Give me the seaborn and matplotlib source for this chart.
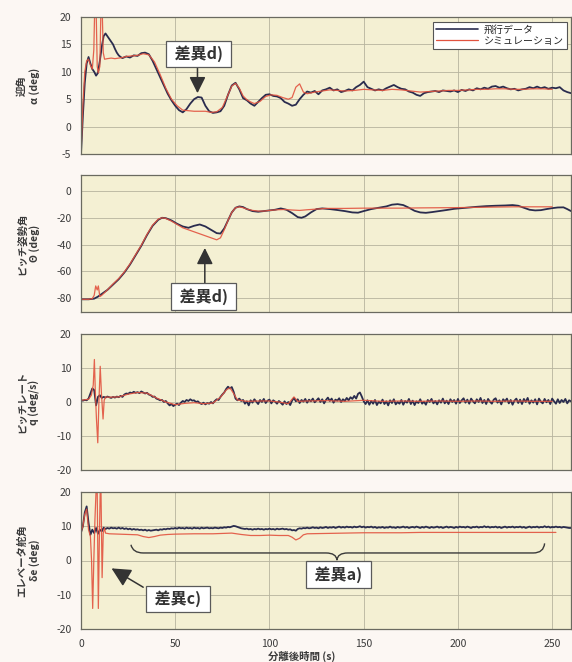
import numpy as np
import pandas as pd
import matplotlib
matplotlib.use("Agg")
import matplotlib.pyplot as plt
import seaborn as sns
from matplotlib.lines import Line2D
from matplotlib.path import Path
from matplotlib.patches import PathPatch

# ---------------- data ----------------
LABEL_FLIGHT = "飛行データ"
LABEL_SIM = "シミュレーション"

# Panel 1: angle of attack alpha (deg)
t_alpha_fl = list(range(0, 23)) + list(range(24, 261, 2))
alpha_fl = [-5, 2, 8, 11.5, 12.7, 11.5, 10.5, 10.0, 9.3, 9.8,
            12.0, 14.5, 16.5, 17.0, 16.5, 16.0, 15.5, 15.0, 14.2, 13.5,
            13.0, 12.7, 12.5,
            12.8, 12.6, 13.0, 12.9, 13.4, 13.5, 13.2, 12.0, 10.5, 9.0,
            7.5, 6.0, 4.8, 3.8, 3.0, 2.6, 3.2, 4.2, 5.0, 5.4,
            5.3, 3.8, 2.8, 2.5, 2.6, 2.8, 3.8, 5.8, 7.5, 8.0,
            6.8, 5.2, 4.8, 4.2, 3.8, 4.5, 5.2, 5.8, 5.9, 5.6,
            5.5, 5.2, 4.5, 4.2, 3.8, 4.0, 5.0, 5.8, 6.4, 6.2,
            6.5, 5.9, 6.6, 6.8, 7.1, 6.6, 6.8, 6.3, 6.5, 6.8,
            6.6, 7.2, 7.6, 8.2, 7.2, 6.9, 6.6, 6.8, 6.6, 7.0,
            7.3, 7.6, 7.2, 6.9, 6.8, 6.4, 6.2, 5.8, 5.6, 6.1,
            6.3, 6.4, 6.5, 6.3, 6.6, 6.5, 6.4, 6.6, 6.3, 6.7,
            6.5, 6.8, 6.6, 7.0, 6.8, 7.1, 6.9, 7.3, 7.4, 7.1,
            7.3, 7.0, 6.8, 6.9, 6.6, 6.8, 6.9, 7.2, 7.0, 7.3,
            7.0, 7.2, 6.9, 7.1, 7.0, 7.2, 6.6, 6.3, 6.1]

t_alpha_sim = [0, 1, 2, 3, 4, 5, 6, 6.8, 7.3, 8.0,
               8.6, 9.2, 10, 10.6, 11.2, 11.8, 12.5, 14, 16, 18,
               20, 22, 24, 27, 30, 33, 36, 39, 42, 45,
               48, 51, 54, 57, 60, 63, 66, 69, 72, 75,
               78, 80, 82, 84, 86, 88, 90, 92, 95, 98,
               101, 104, 107, 110, 112, 114, 116, 118, 120, 124,
               128, 132, 136, 140, 145, 150, 155, 160, 165, 170,
               175, 180, 185, 190, 195, 200, 205, 210, 215, 220,
               225, 230, 235, 240, 245, 250]
alpha_sim = [-5, 4, 10, 12, 12.3, 11.2, 10.5, 14, 22, 22,
             11, 9.8, 11, 22, 22, 13.5, 12.3, 12.4, 12.5, 12.4,
             12.5, 12.6, 12.8, 12.9, 13.0, 13.3, 13.1, 11.8, 9.5, 7.0,
             5.0, 3.8, 3.0, 2.9, 2.8, 2.8, 2.8, 2.6, 2.7, 3.5,
             5.8, 7.4, 7.9, 7.0, 5.6, 4.9, 4.5, 4.2, 4.6, 5.5,
             5.8, 5.7, 5.3, 5.0, 5.3, 7.2, 7.8, 6.3, 6.0, 6.3,
             6.5, 6.7, 6.6, 6.5, 6.6, 6.8, 6.7, 6.6, 6.8, 6.7,
             6.5, 6.3, 6.4, 6.5, 6.6, 6.6, 6.7, 6.8, 6.8, 6.9,
             6.9, 6.8, 6.8, 6.9, 6.9, 6.8]

# Panel 2: pitch attitude theta (deg)
t_theta_fl = [0, 4, 7, 9, 11, 14, 17, 20, 23, 26,
              29, 32, 35, 38, 41, 43, 45, 48, 51, 54,
              57, 60, 63, 66, 69, 72, 74, 76, 78, 80,
              82, 84, 86, 88, 91, 94, 97, 100, 103, 106,
              109, 112, 115, 117, 119, 122, 125, 128, 132, 136,
              140, 144, 147, 150, 154, 158, 162, 165, 168, 171,
              174, 177, 180, 183, 186, 190, 194, 198, 202, 206,
              210, 215, 220, 225, 229, 232, 235, 238, 241, 244,
              247, 250, 253, 256, 258, 260]
theta_fl = [-81, -81, -80.5, -79, -77, -74, -70, -66, -61, -55,
            -48, -41, -33, -26, -21.5, -20, -20.3, -22, -24.5, -26.5,
            -27.5, -26, -25, -26.5, -29, -31.5, -31.8, -28, -22, -16,
            -12.5, -11.5, -12, -13.5, -15, -15.5, -15, -14.5, -14, -13,
            -14, -16.5, -19.5, -20, -19, -16, -13.5, -13, -13.5, -14.2,
            -15, -16, -16.2, -15, -13.5, -12.5, -11.5, -10.2, -9.8, -10.5,
            -12.5, -14.8, -16, -16.3, -15.8, -15, -14.2, -13.3, -12.8, -12.3,
            -11.8, -11.3, -11, -10.8, -10.5, -11, -12.5, -14, -14.5, -14.3,
            -13.5, -12.8, -12.3, -12.2, -13.5, -15]

t_theta_sim = [0, 4, 6, 7, 7.8, 8.6, 9.2, 10, 11, 14,
               17, 20, 23, 26, 29, 32, 35, 38, 41, 43,
               45, 48, 51, 54, 57, 60, 63, 66, 69, 72,
               74, 76, 78, 80, 82, 84, 86, 88, 91, 94,
               97, 100, 104, 108, 112, 116, 120, 125, 130, 140,
               150, 160, 170, 180, 190, 200, 210, 220, 230, 240,
               250]
theta_sim = [-81, -81, -80.5, -78, -71, -74, -71, -79, -78, -74,
             -69.5, -65.5, -60.5, -54.5, -47.5, -40.5, -32.5, -25.5, -21, -20,
             -20.5, -22.5, -25, -27.5, -29, -30.5, -32, -33.5, -35, -36.5,
             -35, -29, -22, -16, -12.5, -11.8, -12.5, -13.5, -14.5, -15,
             -15, -14.5, -14, -13.8, -14.2, -14.5, -14, -13.5, -13, -13,
             -12.8, -12.8, -12.8, -12.6, -12.5, -12.4, -12.2, -12, -11.8, -11.8,
             -11.8]

# Panel 3: pitch rate q (deg/s), flight data sampled every second 0..260
t_q_fl = list(range(0, 261))
q_fl = [0.5, 0.4, 0.6, 0.5, 1.0, 2.5, 4.0, 3.5, -1.0, 1.5,
        2.0, 1.2, 1.5, 1.3, 1.6, 1.4, 1.2, 1.5, 1.3, 1.6,
        1.4, 1.8, 1.5, 2.2, 2.5, 2.4, 2.8, 2.6, 3.0, 2.7,
        2.9, 2.6, 3.1, 2.8, 2.5, 2.7, 2.2, 2.0, 1.5, 1.6,
        1.0, 0.8, 0.5, 0.6, 0.0, 0.3, -0.4, -1.0, -0.6, -1.2,
        -0.8, -0.5, -0.9, -0.2, 0.3, 0.0, 0.6, 0.3, 0.8, 0.4,
        0.5, 0.0, 0.2, -0.3, -0.6, -0.2, -0.7, -0.3, -0.5, 0.0,
        -0.4, 0.3, 0.8, 0.6, 1.5, 2.2, 2.8, 3.8, 4.5, 4.0,
        4.4, 3.0, 1.0, 0.5, 1.0, 0.3, 0.6, -0.5, 0.2, -1.0,
        0.5, -0.2, 0.8, 0.1, -0.6, 0.6, 0.0, 0.9, -0.3, 0.4,
        0.7, -0.4, 0.5, 0.1, -0.5, 0.3, -0.2, -0.8, 0.2, -0.6,
        0.0, -0.9, 0.4, 1.2, 0.2, 0.8, -0.3, 0.6, 0.1, 0.9,
        -0.2, 0.7, 0.2, 1.0, -0.1, 0.5, 1.1, 0.0, 0.8, -0.4,
        0.6, 1.3, 0.3, 1.0, -0.2, 0.7, 0.4, 1.1, 0.0, 0.8,
        0.3, 1.2, 0.5, 1.4, 0.9, 1.8, 1.0, 2.4, 2.8, 1.6,
        0.2, -0.6, 0.5, -0.8, 0.3, -0.5, 0.6, -0.9, 0.1, -0.4,
        0.7, -0.6, 0.2, -1.0, 0.5, -0.3, 0.8, -0.7, 0.0, -0.5,
        0.6, -0.8, 0.3, -0.2, 0.9, -0.6, 0.4, -0.9, 0.2, -0.3,
        0.8, -0.5, 0.1, -0.8, 0.6, 0.0, 0.9, -0.4, 0.3, -0.7,
        0.5, -0.2, 1.0, -0.4, 0.4, -0.6, 0.8, 0.0, 0.6, -0.5,
        0.9, -0.3, 0.5, 1.1, -0.2, 0.7, -0.5, 1.0, 0.2, -0.4,
        0.8, 0.0, 1.2, -0.3, 0.6, -0.6, 0.9, 0.1, -0.5, 0.7,
        1.1, -0.2, 0.5, -0.7, 0.8, 0.2, 1.0, -0.4, 0.6, -0.8,
        0.4, 1.0, -0.3, 0.7, -0.6, 0.9, 0.0, 1.2, -0.5, 0.5,
        -0.2, 0.8, -0.7, 1.0, 0.1, -0.4, 0.9, -0.1, 0.6, -0.6,
        1.0, 0.2, -0.5, 0.8, -0.3, 0.6, 0.0, 0.9, -0.4, 0.5,
        0.2]

t_q_sim = [0, 4, 5.5, 6.5, 7.1, 7.6, 8.2, 8.9, 9.5, 10.2,
           10.8, 11.7, 12.3, 13, 15, 20, 25, 30, 35, 40,
           45, 50, 55, 60, 65, 70, 74, 77, 79, 81,
           83, 88, 95, 100, 105, 110, 113, 115, 120, 130,
           140, 150, 160, 170, 180, 190, 200, 210, 220, 230,
           240, 250]
q_sim = [0.5, 0.8, 2, 5, 12.5, 3, -5, -12, 0, 10.5,
         3, -5, 0.5, 1.5, 1.4, 1.5, 2.3, 2.8, 2.6, 1.2,
         0.0, -0.8, -0.4, -0.2, -0.5, -0.3, 1.4, 3.5, 4.2, 2.5,
         0.6, 0.2, 0.3, 0.3, 0.0, -0.5, 1.5, 0.2, 0.3, 0.4,
         0.2, 0.5, 0.2, 0.3, 0.2, 0.3, 0.2, 0.3, 0.2, 0.3,
         0.2, 0.2]

# Panel 4: elevator deflection delta_e (deg), flight data every second 0..260
t_de_fl = list(range(0, 261))
de_fl = [8.2, 10.0, 14.0, 15.8, 11.0, 7.5, 9.0, 8.0, 9.5, 7.8,
         9.0, 8.5, 9.6, 9.2, 9.5, 9.3, 9.6, 9.4, 9.5, 9.3,
         9.6, 9.3, 9.5, 9.2, 9.4, 9.1, 9.3, 9.0, 9.2, 9.0,
         9.1, 8.9, 9.0, 8.8, 9.0, 8.7, 8.9, 8.7, 8.8, 8.9,
         9.0, 8.8, 9.1, 9.0, 9.2, 9.1, 9.3, 9.2, 9.4, 9.3,
         9.5, 9.3, 9.6, 9.4, 9.5, 9.3, 9.6, 9.4, 9.5, 9.3,
         9.6, 9.4, 9.5, 9.3, 9.6, 9.4, 9.5, 9.6, 9.4, 9.5,
         9.4, 9.6, 9.5, 9.4, 9.6, 9.5, 9.7, 9.6, 9.8, 9.7,
         9.9, 10.1, 10.0, 9.8, 9.6, 9.4, 9.3, 9.2, 9.3, 9.1,
         9.2, 9.0, 9.2, 9.1, 9.3, 9.1, 9.2, 9.0, 9.2, 9.1,
         9.3, 9.1, 9.2, 9.0, 9.3, 9.1, 9.2, 9.3, 9.1, 9.2,
         9.0, 9.1, 8.8, 8.9, 8.7, 9.2, 9.4, 9.3, 9.5, 9.4,
         9.6, 9.4, 9.5, 9.7, 9.5, 9.6, 9.4, 9.7, 9.5, 9.6,
         9.8, 9.5, 9.7, 9.6, 9.8, 9.5, 9.7, 9.9, 9.6, 9.8,
         9.6, 9.9, 9.7, 9.8, 9.6, 9.9, 9.7, 9.8, 10.0, 9.7,
         9.9, 9.6, 9.8, 9.7, 9.9, 9.6, 9.8, 9.5, 9.7, 9.6,
         9.8, 9.5, 9.7, 9.6, 9.9, 9.6, 9.7, 9.5, 9.8, 9.6,
         9.7, 9.9, 9.6, 9.8, 9.5, 9.7, 9.8, 9.6, 9.9, 9.7,
         9.5, 9.8, 9.6, 9.9, 9.7, 9.5, 9.8, 9.6, 9.7, 9.9,
         9.6, 9.8, 9.5, 9.7, 9.9, 9.6, 9.8, 9.7, 9.5, 9.8,
         9.6, 9.9, 9.7, 9.8, 9.6, 9.9, 9.7, 9.5, 9.8, 9.7,
         9.9, 9.6, 9.8, 9.7, 10.0, 9.7, 9.9, 9.6, 9.8, 9.7,
         9.9, 9.6, 9.8, 9.5, 9.7, 9.9, 9.6, 9.8, 9.7, 9.9,
         9.6, 9.8, 9.7, 9.9, 9.6, 9.8, 9.5, 9.7, 9.9, 9.6,
         9.8, 9.7, 9.9, 9.6, 9.8, 9.7, 10.0, 9.7, 9.9, 9.6,
         9.8, 9.7, 9.9, 9.7, 9.8, 9.6, 9.8, 9.7, 9.6, 9.5,
         9.5]

t_de_sim = [0, 1, 2, 3, 4, 5, 5.6, 6.2, 6.8, 7.4,
            8.0, 8.6, 9.2, 9.7, 10.2, 10.6, 11.2, 11.8, 12.5, 13,
            15, 20, 25, 30, 33, 36, 39, 42, 46, 50,
            60, 70, 80, 85, 90, 95, 100, 105, 110, 112,
            114, 116, 118, 120, 130, 140, 150, 160, 170, 180,
            190, 200, 210, 220, 230, 240, 252]
de_sim = [8.2, 10, 13.5, 15, 9, 7, 0, -14, 0, 12,
          20.5, 20.5, -14, 5, 20.5, 20.5, -5, 8, 9.5, 8,
          7.8, 7.7, 7.6, 7.5, 7.0, 6.7, 7.0, 7.4, 7.6, 7.7,
          7.8, 7.8, 8.0, 7.6, 7.3, 7.3, 7.4, 7.3, 7.3, 6.8,
          6.0, 6.5, 7.5, 7.8, 7.9, 8.0, 8.1, 8.1, 8.1, 8.2,
          8.2, 8.2, 8.2, 8.2, 8.2, 8.2, 8.2]

y_labels = ["迎角\nα (deg)", "ピッチ姿勢角\nΘ (deg)",
            "ピッチレート\nq (deg/s)", "エレベータ舵角\nδe (deg)"]
y_ticks = [[-5, 0, 5, 10, 15, 20], [-80, -60, -40, -20, 0],
           [-20, -10, 0, 10, 20], [-20, -10, 0, 10, 20]]
y_limits = [(-5, 20), (-90.5, 12), (-20, 20), (-20, 20)]
x_ticks = [0, 50, 100, 150, 200, 250]
x_label = "分離後時間 (s)"

# ---------------- style ----------------
BG = "#fcf7f3"
FACE = "#f4f0d3"
C_FL = "#2a2c4e"
C_SIM = "#e2533f"
GRID = "#b7b49e"
TXT = "#3a3a3a"

sns.set_theme(style="whitegrid")
plt.rcParams['font.family'] = ['Noto Sans CJK JP', 'DejaVu Sans']
plt.rcParams['axes.unicode_minus'] = False

W, H = 572, 662
fig = plt.figure(figsize=(W / 100, H / 100), dpi=100, facecolor=BG)
left = 81 / W
width = (571 - 81) / W
boxes = [(17, 154), (175, 312), (334, 470), (492, 629)]

series = [(t_alpha_fl, alpha_fl, t_alpha_sim, alpha_sim),
          (t_theta_fl, theta_fl, t_theta_sim, theta_sim),
          (t_q_fl, q_fl, t_q_sim, q_sim),
          (t_de_fl, de_fl, t_de_sim, de_sim)]

axes = []
for i, ((top, bot), (tf, vf, ts, vs)) in enumerate(zip(boxes, series)):
    ax = fig.add_axes([left, 1 - bot / H, width, (bot - top) / H])
    ax.set_facecolor(FACE)
    df_f = pd.DataFrame({"t": tf, "v": vf})
    df_s = pd.DataFrame({"t": ts, "v": vs})
    sns.lineplot(data=df_f, x="t", y="v", ax=ax, color=C_FL, lw=1.3,
                 estimator=None, sort=False, legend=False)
    sns.lineplot(data=df_s, x="t", y="v", ax=ax, color=C_SIM, lw=0.9,
                 estimator=None, sort=False, legend=False, alpha=0.9)
    ax.set_xlim(0, 260)
    ax.set_ylim(*y_limits[i])
    ax.set_xticks(x_ticks)
    ax.set_yticks(y_ticks[i])
    ax.grid(True, color=GRID, lw=0.6)
    ax.tick_params(length=0, pad=7, labelsize=7.5, labelcolor=TXT)
    for s in ax.spines.values():
        s.set_visible(True)
        s.set_color("#6a6a60")
        s.set_linewidth(0.9)
    ax.set_xlabel("")
    ax.set_ylabel(y_labels[i], fontsize=7.5, color=TXT, fontweight="bold",
                  linespacing=1.3)
    ax.yaxis.set_label_coords(-0.083, 0.5)
    if i < 3:
        ax.set_xticklabels([])
    axes.append(ax)

axes[3].set_xlabel(x_label, fontsize=7.5, color=TXT, fontweight="bold")
axes[3].xaxis.set_label_coords(0.45, -0.16)

# legend
handles = [Line2D([], [], color=C_FL, lw=1.2), Line2D([], [], color=C_SIM, lw=0.9)]
leg = axes[0].legend(handles, [LABEL_FLIGHT, LABEL_SIM], loc="upper right",
                     bbox_to_anchor=(0.992, 0.964), borderaxespad=0,
                     fontsize=7.2, handlelength=4.2, labelspacing=0.1,
                     borderpad=0.3, handletextpad=0.6, fancybox=False,
                     framealpha=1, facecolor="white", edgecolor="#555555")
leg.get_frame().set_linewidth(0.8)

box_kw = dict(boxstyle="square,pad=0.3", fc="white", ec="#5a5a5a", lw=0.9)
arrow_kw = dict(arrowstyle="-|>,head_length=0.9,head_width=0.45",
                color="#333333", lw=1.1, mutation_scale=11, shrinkA=0, shrinkB=0)

# annotation d) panel 1
axes[0].annotate("", xy=(61.8, 6.1), xytext=(61.8, 11.1), arrowprops=arrow_kw)
axes[0].text(62.5, 13.3, " 差異d) ", ha="center", va="center", fontsize=11.5,
             fontweight="bold", color="#333333", bbox=box_kw)

# annotation d) panel 2
axes[1].annotate("", xy=(65.7, -42.6), xytext=(65.7, -72.5), arrowprops=arrow_kw)
axes[1].text(65.0, -78.9, " 差異d) ", ha="center", va="center", fontsize=11.5,
             fontweight="bold", color="#333333", bbox=box_kw)

# annotation c) panel 4
axes[3].annotate("", xy=(16.2, -2.3), xytext=(33.0, -7.8),
                 arrowprops=dict(arrow_kw, mutation_scale=13))
axes[3].text(51.4, -11.2, " 差異c) ", ha="center", va="center", fontsize=11.5,
             fontweight="bold", color="#333333", bbox=box_kw)

# brace + annotation a) panel 4
verts = [(26.5, 4.6), (27.5, 2.2), (33, 2.2), (130, 2.2),
         (135.5, 2.2), (135.8, 0.1), (136.1, 2.2), (141.5, 2.2),
         (240, 2.2), (245.5, 2.2), (246, 5.0)]
codes = [Path.MOVETO, Path.CURVE3, Path.CURVE3, Path.LINETO,
         Path.CURVE3, Path.CURVE3, Path.CURVE3, Path.CURVE3,
         Path.LINETO, Path.CURVE3, Path.CURVE3]
axes[3].add_patch(PathPatch(Path(verts, codes), fc="none", ec="#3a3a3a", lw=1.0))
axes[3].text(136.7, -4.1, " 差異a) ", ha="center", va="center", fontsize=11.5,
             fontweight="bold", color="#333333", bbox=box_kw)

fig.savefig("out.png", dpi=100, facecolor=BG)
